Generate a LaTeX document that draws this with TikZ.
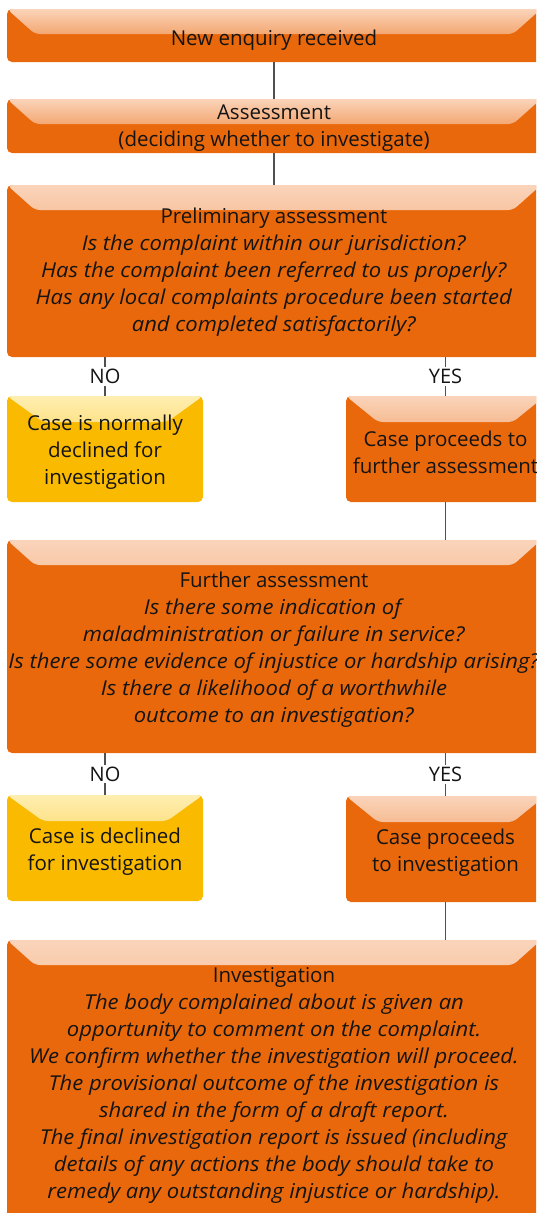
\documentclass[tikz,border=0pt]{standalone}
\usepackage{fontspec}
\setmainfont{Open Sans}[ItalicFeatures={FakeStretch=1.075}]
\usetikzlibrary{calc}
\definecolor{orng}{RGB}{233,104,12}
\definecolor{orngt}{RGB}{250,212,186}
\definecolor{orngb}{RGB}{236,116,32}
\definecolor{ylw}{RGB}{250,186,0}
\definecolor{ylwt}{RGB}{254,238,176}
\definecolor{ylwb}{RGB}{251,192,24}
\definecolor{txt}{RGB}{20,20,20}
\definecolor{conn}{RGB}{80,80,80}
\tikzset{
  bevel/.style n args={4}{path picture={
    \shade[top color=#1, bottom color=#2, rounded corners=5pt]
      (path picture bounding box.north west)
      -- ($(path picture bounding box.north west)+(#3,-#4)$)
      -- ($(path picture bounding box.north east)+(-#3,-#4)$)
      -- (path picture bounding box.north east) -- cycle;}},
  box/.style={rounded corners=5pt, inner sep=0pt},
  bigbox/.style={box, fill=orng, bevel={orngt}{orngb}{28pt}{25pt}, minimum width=534pt},
  obox/.style={box, fill=orng, bevel={orngt}{orngb}{32pt}{26pt}, minimum width=199pt, minimum height=106pt},
  ybox/.style={box, fill=ylw, bevel={ylwt}{ylwb}{36pt}{26pt}, minimum width=196pt, minimum height=106pt},
  boxtext/.style={inner sep=0pt, align=center, text=txt, font=\fontsize{20.5}{27}\selectfont},
  conn/.style={draw=conn, line width=1.6pt},
  lbl/.style={fill=white, inner sep=2pt, text=txt, font=\fontsize{20}{24}\selectfont}
}
\begin{document}
\begin{tikzpicture}[x=1pt,y=-1pt]
\useasboundingbox (0,0) rectangle (536,1213);
\clip (0,0) rectangle (536,1213);
\node[bigbox, minimum height=53pt] (b1) at (274,35.5) {};
\node[boxtext] (t1) at ([yshift=-4.5pt]b1.center) {New enquiry received};
\node[bigbox, minimum height=54pt] (b2) at (274,126) {};
\node[boxtext] (t2) at ([yshift=-2.5pt]b2.center) {Assessment\\(deciding whether to investigate)};
\node[bigbox, minimum height=172pt] (b3) at (274,271) {};
\node[boxtext] (t3) at ([yshift=-1.5pt]b3.center) {Preliminary assessment\\
  \textit{Is the complaint within our jurisdiction?}\\
  \textit{Has the complaint been referred to us properly?}\\
  \textit{Has any local complaints procedure been started}\\
  \textit{and completed satisfactorily?}};
\node[ybox] (y1) at (105,449) {};
\node[boxtext] (ty1) at ([yshift=-3pt]y1.center) {Case is normally\\declined for\\investigation};
\node[obox] (r1) at (445.5,449) {};
\node[boxtext] (tr1) at ([yshift=-3pt]r1.center) {Case proceeds to\\further assessment};
\node[bigbox, minimum height=213pt] (b4) at (274,646.5) {};
\node[boxtext] (t4) at ([yshift=-3pt]b4.center) {Further assessment\\
  \textit{Is there some indication of}\\
  \textit{maladministration or failure in service?}\\
  \textit{Is there some evidence of injustice or hardship arising?}\\
  \textit{Is there a likelihood of a worthwhile}\\
  \textit{outcome to an investigation?}};
\node[ybox] (y2) at (105,848) {};
\node[boxtext] (ty2) at ([yshift=-3.5pt]y2.center) {Case is declined\\for investigation};
\node[obox] (r2) at (445.5,849) {};
\node[boxtext] (tr2) at ([yshift=-3.5pt]r2.center) {Case proceeds\\to investigation};
\node[bigbox, minimum height=285pt] (b5) at (274,1082.5) {};
\node[boxtext] (t5) at ([yshift=-3pt]b5.center) {Investigation\\
  \textit{The body complained about is given an}\\
  \textit{opportunity to comment on the complaint.}\\
  \textit{We confirm whether the investigation will proceed.}\\
  \textit{The provisional outcome of the investigation is}\\
  \textit{shared in the form of a draft report.}\\
  \textit{The final investigation report is issued (including}\\
  \textit{details of any actions the body should take to}\\
  \textit{remedy any outstanding injustice or hardship).}};
\draw[conn] (b1) -- (b2);
\draw[conn] (b2) -- (b3);
\draw[conn] (b3.south -| y1.north) -- node[lbl] {NO} (y1.north);
\draw[conn] (b3.south -| r1.north) -- node[lbl] {YES} (r1.north);
\draw[conn] (r1.south) -- (r1.south |- b4.north);
\draw[conn] (b4.south -| y2.north) -- node[lbl] {NO} (y2.north);
\draw[conn] (b4.south -| r2.north) -- node[lbl] {YES} (r2.north);
\draw[conn] (r2.south) -- (r2.south |- b5.north);
\end{tikzpicture}
\end{document}
